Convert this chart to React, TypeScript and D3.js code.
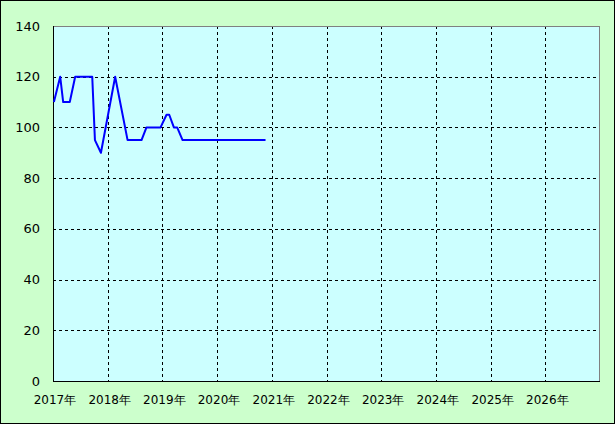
import React from "react";
import * as d3 from "d3";

const dates = [
  "2017-01-07", "2017-02-18", "2017-03-10", "2017-04-23", "2017-05-29",
  "2017-09-20", "2017-10-08", "2017-11-17", "2018-02-20", "2018-05-14",
  "2018-08-15", "2018-09-17", "2018-12-20", "2019-01-29", "2019-02-16",
  "2019-03-19", "2019-04-10", "2019-05-16", "2020-11-20",
];
const values = [110, 120, 110, 110, 120, 120, 95, 90, 120, 95, 95, 100, 100, 105, 105, 100, 100, 95, 95];
const yTicks = [0, 20, 40, 60, 80, 100, 120, 140];
const xYears = [2017, 2018, 2019, 2020, 2021, 2022, 2023, 2024, 2025, 2026];

const W = 615, H = 424;
const L = 53, R = 600, T = 26, B = 381;

export default function App() {
  const parse = d3.timeParse("%Y-%m-%d");
  const x = d3.scaleTime().domain([new Date(2017, 0, 1), new Date(2027, 0, 1)]).range([L, R]);
  const y = d3.scaleLinear().domain([0, 140]).range([B, T]);
  const pts = dates.map((d, i) => [x(parse(d)!), y(values[i])] as [number, number]);
  const line = d3.line()(pts) || "";
  const font = "'DejaVu Sans', sans-serif";
  return (
    <div style={{ position: "absolute", left: 0, top: 0 }}>
      <svg width={W} height={H} style={{ display: "block" }}>
        <rect x={0.5} y={0.5} width={W - 1} height={H - 1} fill="#ccffcc" stroke="#000" />
        <rect x={L} y={T} width={R - L} height={B - T} fill="#ccffff" />
        {yTicks.filter((t) => t > 0 && t < 140).map((t) => (
          <line key={"h" + t} x1={L} x2={R} y1={Math.round(y(t)) + 0.5} y2={Math.round(y(t)) + 0.5}
            stroke="#000" strokeDasharray="3,3" />
        ))}
        {xYears.filter((yr) => yr > 2017).map((yr) => {
          const xx = Math.round(x(new Date(yr, 0, 1))) + 0.5;
          return <line key={"v" + yr} x1={xx} x2={xx} y1={T} y2={B} stroke="#000" strokeDasharray="3,3" />;
        })}
        <line x1={L} x2={R} y1={T + 0.5} y2={T + 0.5} stroke="#808080" />
        <line x1={R - 0.5} x2={R - 0.5} y1={T} y2={B} stroke="#808080" />
        <line x1={L + 0.5} x2={L + 0.5} y1={T} y2={B + 1} stroke="#000" />
        <line x1={L} x2={R} y1={B + 0.5} y2={B + 0.5} stroke="#000" />
        <path d={line} fill="none" stroke="#0000ff" strokeWidth={2} strokeLinejoin="round" />
        {yTicks.map((t) => (
          <text key={"yl" + t} x={40} y={y(t)} dy="0.35em" textAnchor="end" fontFamily={font} fontSize={13} fill="#000">
            {t}
          </text>
        ))}
        {xYears.map((yr) => (
          <text key={"xl" + yr} x={x(new Date(yr, 0, 1)) + 2} y={400} dy="0.35em" textAnchor="middle" fontFamily={font} fontSize={12} fill="#000">
            {yr}年
          </text>
        ))}
      </svg>
    </div>
  );
}
